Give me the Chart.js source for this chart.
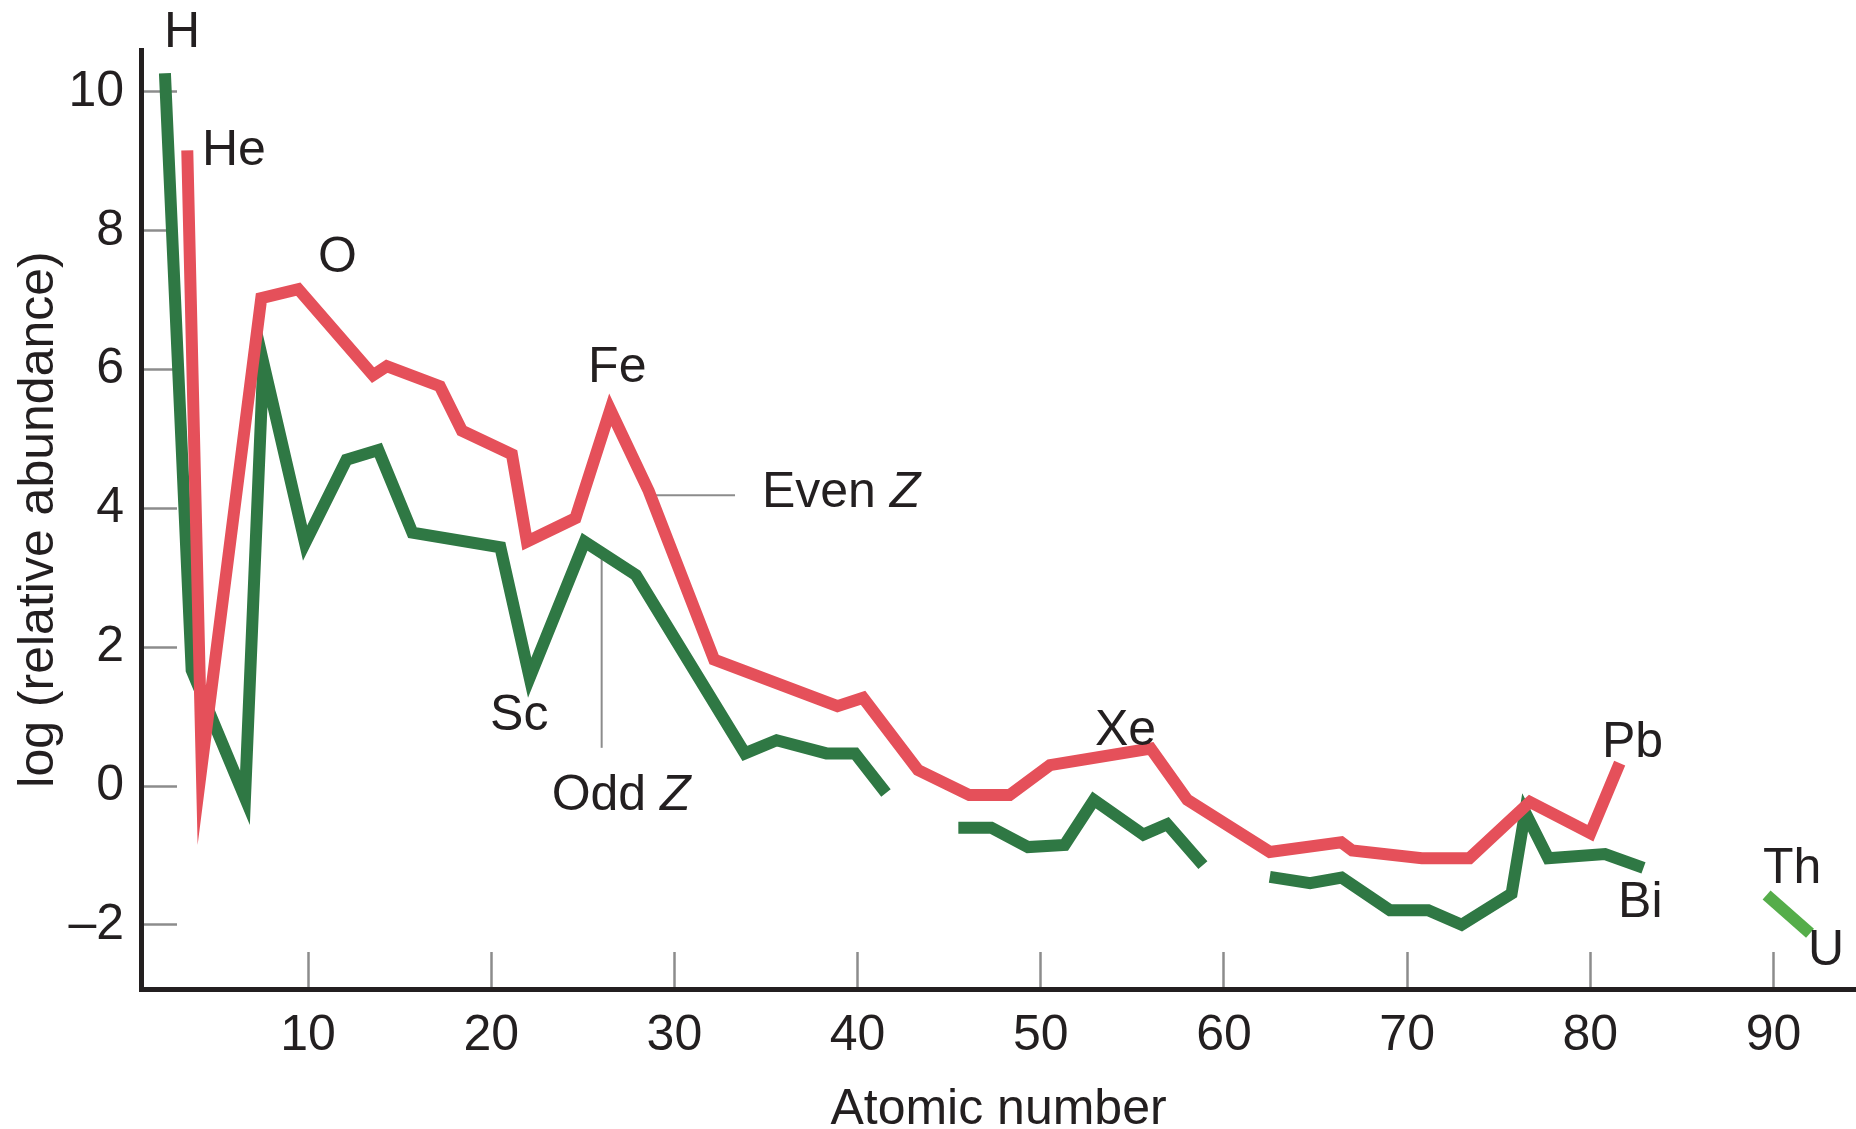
<!DOCTYPE html>
<html>
<head>
<meta charset="utf-8">
<title>Abundance of the elements</title>
<script src="https://cdn.jsdelivr.net/npm/chart.js@4.4.1/dist/chart.umd.min.js"></script>
<style>
  html, body { margin: 0; padding: 0; background: #fff; overflow: hidden; }
  canvas { display: block; }
</style>
</head>
<body>
<canvas id="chart" width="1856" height="1129"></canvas>
<script>
// values (x = atomic number as drawn, y = log relative abundance)
const evenZ = [3.41, 4.2, 7.45, 9.47, 13.55, 14.3, 17.2, 18.4, 21.13, 21.95, 24.6, 26.5, 28.6, 32.17, 38.9, 40.3, 43.3, 46.1, 48.3, 50.5, 56.0, 58.0, 62.5, 66.4, 67.0, 70.8, 73.4, 76.7, 80.0, 81.6];
const evenLog = [9.16, 0.3, 7.03, 7.16, 5.92, 6.05, 5.76, 5.12, 4.78, 3.52, 3.86, 5.42, 4.25, 1.82, 1.15, 1.27, 0.23, -0.13, -0.13, 0.3, 0.54, -0.2, -0.95, -0.81, -0.93, -1.04, -1.04, -0.23, -0.68, 0.33];

// odd Z is drawn in three pieces
const oddZ = [
  [2.19, 3.65, 6.56, 7.56, 9.84, 12.1, 13.84, 15.7, 20.5, 22.1, 25.1, 27.9, 33.85, 35.58, 38.3, 39.86, 41.55],
  [45.5, 47.3, 49.3, 51.3, 52.9, 55.6, 56.9, 58.85],
  [62.5, 64.7, 66.42, 69.06, 71.15, 72.97, 75.7, 76.44, 77.7, 80.8, 82.9]
];
const oddLog = [
  [10.27, 1.67, -0.17, 6.1, 3.5, 4.7, 4.84, 3.65, 3.44, 1.56, 3.52, 3.04, 0.47, 0.66, 0.47, 0.47, -0.1],
  [-0.6, -0.6, -0.88, -0.85, -0.2, -0.7, -0.55, -1.14],
  [-1.31, -1.4, -1.32, -1.79, -1.79, -2.0, -1.55, -0.38, -1.04, -0.98, -1.18]
];

// Th - U
const thuZ = [89.62, 91.99];
const thuLog = [-1.57, -2.12];

const xTickValues = [10, 20, 30, 40, 50, 60, 70, 80, 90];
const xTickLabels = ['10', '20', '30', '40', '50', '60', '70', '80', '90'];
const yTickValues = [-2, 0, 2, 4, 6, 8, 10];
const yTickLabels = ['\u20132', '0', '2', '4', '6', '8', '10'];

// element labels, anchored at left / baseline
const labelText = ['H', 'He', 'O', 'Fe', 'Sc', 'Xe', 'Pb', 'Bi', 'Th', 'U'];
const labelZ = [2.14, 4.21, 10.55, 25.29, 19.94, 52.96, 80.63, 81.51, 89.42, 91.88];
const labelLog = [10.65, 8.95, 7.41, 5.82, 0.81, 0.59, 0.42, -1.89, -1.4, -2.58];

// series names with their leader lines
const seriesText = ['Even', 'Odd'];
const seriesZ = [34.78, 23.3];
const seriesLog = [4.02, -0.35];
const leaderZ = [[28.58, 33.31], [26.03, 26.03]];
const leaderLog = [[4.19, 4.19], [3.36, 0.55]];

const RED = '#e5505a';
const GREEN = '#2f7844';
const LIGHT_GREEN = '#55ad4a';
const INK = '#231f20';
const FONT = '"Liberation Sans", Arial, Helvetica, sans-serif';

function points(xs, ys) {
  return xs.map((x, i) => ({ x: x, y: ys[i] }));
}

function lineSet(label, xs, ys, color) {
  return {
    label: label,
    data: points(xs, ys),
    borderColor: color,
    backgroundColor: color,
    borderWidth: 12,
    borderCapStyle: 'butt',
    borderJoinStyle: 'miter',
    pointRadius: 0,
    tension: 0,
    fill: false
  };
}

const annotations = {
  id: 'annotations',
  beforeDatasetsDraw(chart) {
    const { ctx, scales: { x, y } } = chart;
    ctx.save();
    ctx.strokeStyle = '#8c8c8c';
    ctx.lineWidth = 2;
    leaderZ.forEach((zs, i) => {
      ctx.beginPath();
      ctx.moveTo(x.getPixelForValue(zs[0]), y.getPixelForValue(leaderLog[i][0]));
      ctx.lineTo(x.getPixelForValue(zs[1]), y.getPixelForValue(leaderLog[i][1]));
      ctx.stroke();
    });
    ctx.restore();
    // sharp peaks keep their pointed tips
    ctx.miterLimit = 20;
  },
  afterDatasetsDraw(chart) {
    const { ctx, scales: { x, y } } = chart;
    ctx.save();
    ctx.fillStyle = INK;
    ctx.textAlign = 'left';
    ctx.textBaseline = 'alphabetic';
    ctx.font = '50px ' + FONT;
    labelText.forEach((t, i) => {
      ctx.fillText(t, x.getPixelForValue(labelZ[i]), y.getPixelForValue(labelLog[i]));
    });
    seriesText.forEach((t, i) => {
      const px = x.getPixelForValue(seriesZ[i]);
      const py = y.getPixelForValue(seriesLog[i]);
      ctx.font = '50px ' + FONT;
      ctx.fillText(t + ' ', px, py);
      const w = ctx.measureText(t + ' ').width;
      ctx.font = 'italic 50px ' + FONT;
      ctx.fillText('Z', px + w, py);
    });
    ctx.restore();
  }
};

const tickFont = { family: FONT, size: 50 };

new Chart(document.getElementById('chart'), {
  type: 'line',
  data: {
    datasets: [
      lineSet('Even Z', evenZ, evenLog, RED),
      lineSet('Odd Z', oddZ[0], oddLog[0], GREEN),
      lineSet('Odd Z', oddZ[1], oddLog[1], GREEN),
      lineSet('Odd Z', oddZ[2], oddLog[2], GREEN),
      lineSet('Th-U', thuZ, thuLog, LIGHT_GREEN)
    ]
  },
  options: {
    responsive: false,
    animation: false,
    devicePixelRatio: 1,
    layout: { padding: { top: 50, right: 0, bottom: 0, left: 0 } },
    plugins: {
      legend: { display: false },
      tooltip: { enabled: false }
    },
    scales: {
      x: {
        type: 'linear',
        min: 0.884,
        max: 94.5,
        afterBuildTicks: axis => { axis.ticks = xTickValues.map(v => ({ value: v })); },
        afterFit: axis => {
          axis.height = 140;
          axis.paddingLeft = 0;
          axis.paddingRight = 0;
        },
        border: { display: true, color: INK, width: 5 },
        grid: { drawOnChartArea: false, drawTicks: true, tickLength: -37, tickColor: '#8c8c8c', tickWidth: 2.5 },
        ticks: {
          autoSkip: false,
          maxRotation: 0,
          padding: 54,
          color: INK,
          font: tickFont,
          callback: v => xTickLabels[xTickValues.indexOf(v)]
        },
        title: {
          display: true,
          text: 'Atomic number',
          color: INK,
          font: tickFont,
          padding: { top: 0, bottom: -11 }
        }
      },
      y: {
        type: 'linear',
        min: -2.925,
        max: 10.605,
        afterBuildTicks: axis => { axis.ticks = yTickValues.map(v => ({ value: v })); },
        afterFit: axis => {
          axis.width = 141;
          axis.paddingTop = 0;
          axis.paddingBottom = 0;
        },
        border: { display: true, color: INK, width: 5 },
        grid: { drawOnChartArea: false, drawTicks: true, tickLength: -36, tickColor: '#8c8c8c', tickWidth: 2.5 },
        ticks: {
          autoSkip: false,
          padding: 53,
          color: INK,
          font: tickFont,
          callback: v => yTickLabels[yTickValues.indexOf(v)]
        },
        title: {
          display: true,
          text: 'log (relative abundance)',
          color: INK,
          font: tickFont,
          padding: { top: 9, bottom: 0 }
        }
      }
    }
  },
  plugins: [annotations]
});
</script>
</body>
</html>
